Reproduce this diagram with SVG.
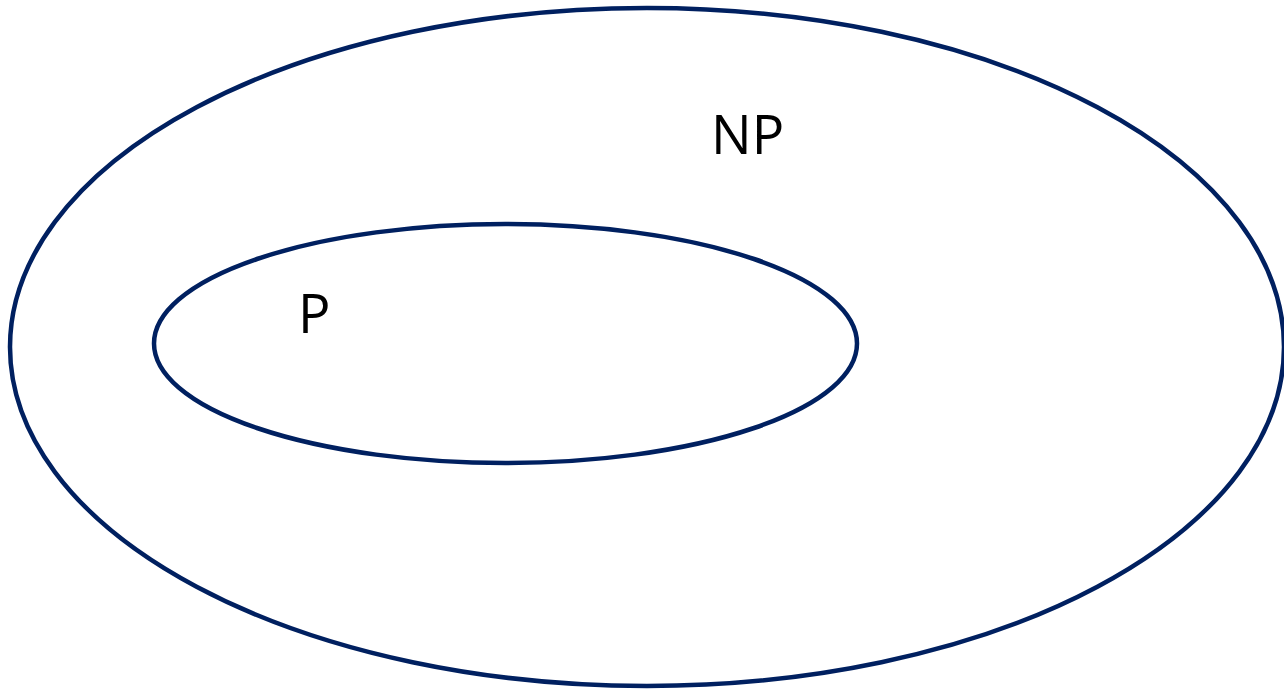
<svg xmlns="http://www.w3.org/2000/svg" width="1284" height="692" viewBox="0 0 1284 692">
<style>
.set{fill:none;stroke:#002060;stroke-width:4.5}
.lbl{font-family:"Open Sans","Noto Sans",sans-serif;font-size:54px;fill:#000}
</style>
<rect width="1284" height="692" fill="#fff"/>
<g id="NP">
<ellipse class="set" cx="647" cy="347" rx="637" ry="339"/>
<text class="lbl" x="711" y="154">NP</text>
</g>
<g id="P">
<ellipse class="set" cx="505.5" cy="343.5" rx="351.5" ry="119.5"/>
<text class="lbl" x="298" y="333">P</text>
</g>
</svg>
